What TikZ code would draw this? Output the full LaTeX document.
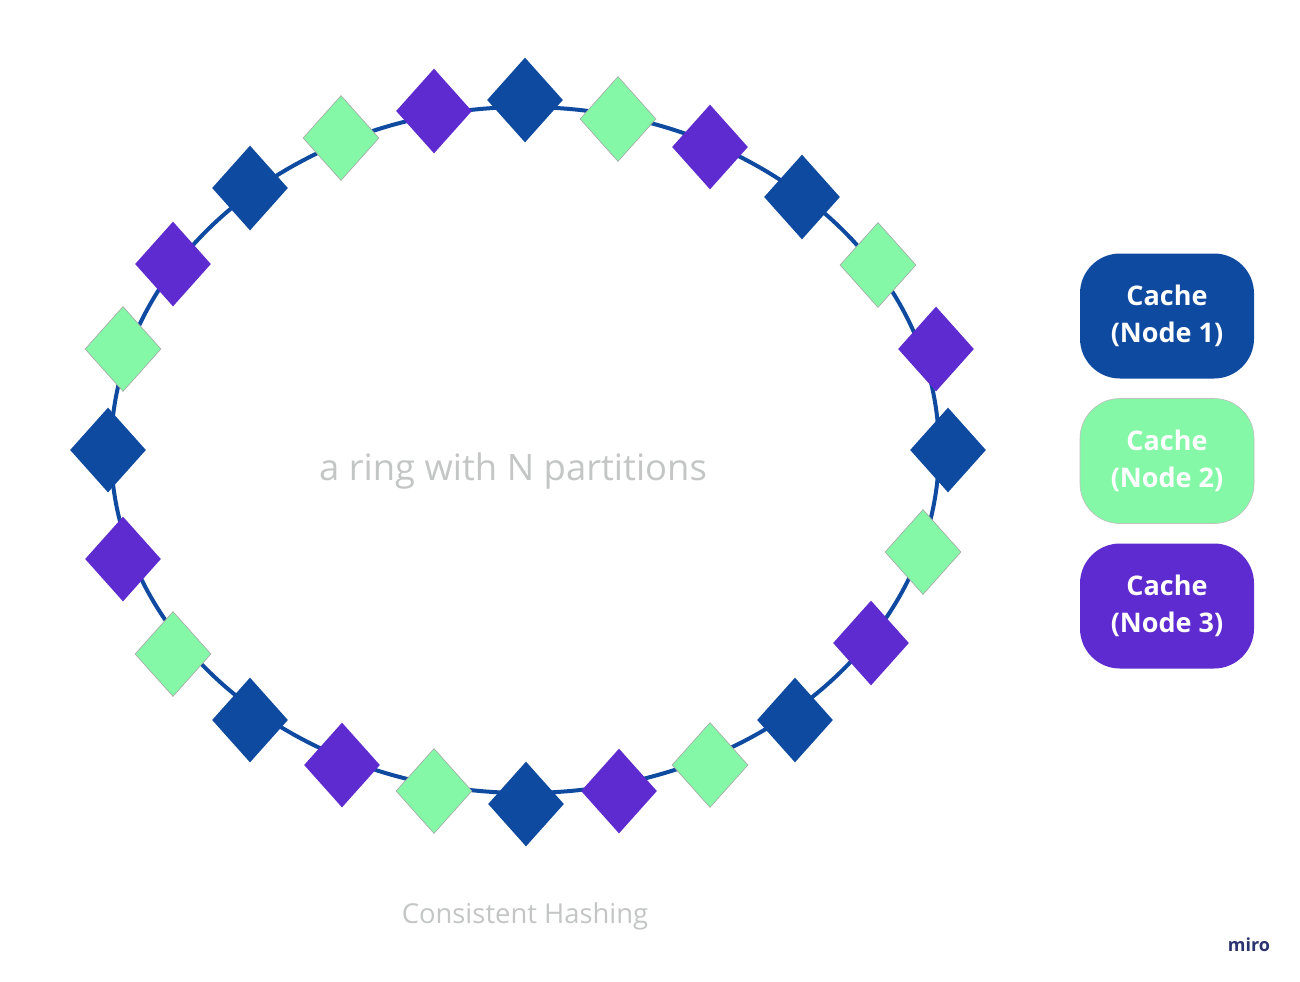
\documentclass[tikz,border=0pt]{standalone}
\usepackage{fontspec}
\setmainfont{Open Sans}
\usetikzlibrary{shapes.geometric}
\definecolor{ringblue}{HTML}{0F4AA1}
\definecolor{ringgreen}{HTML}{85F8A8}
\definecolor{ringpurple}{HTML}{5E2BD0}
\definecolor{labelgray}{HTML}{C4C6C6}
\definecolor{miroblue}{HTML}{2B3470}

\begin{document}
\begin{tikzpicture}[
    x=0.5pt, y=-0.5pt,
    slot/.style={diamond, inner sep=0pt, minimum width=38pt, minimum height=42.5pt},
    bslot/.style={slot, fill=ringblue},
    gslot/.style={slot, fill=ringgreen, draw=black!35, line width=0.3pt},
    pslot/.style={slot, fill=ringpurple},
    ring/.style={draw=ringblue, line width=2pt},
    cache/.style={rounded corners=20pt, minimum width=87pt, minimum height=62.5pt,
        align=center, text=white, font=\fontsize{13.5}{18.5}\selectfont\bfseries}
]
    \useasboundingbox[fill=white] (0,0) rectangle (1300,981);
    \draw[ring] (525,450) ellipse [x radius=414, y radius=343];
    \node[bslot] (s1) at (525,100) {};
    \node[gslot] (s2) at (618,119) {};
    \node[pslot] (s3) at (710,147) {};
    \node[bslot] (s4) at (802,197) {};
    \node[gslot] (s5) at (878,265) {};
    \node[pslot] (s6) at (936,349) {};
    \node[bslot] (s7) at (948,450) {};
    \node[gslot] (s8) at (923,552) {};
    \node[pslot] (s9) at (871,643) {};
    \node[bslot] (s10) at (795,720) {};
    \node[gslot] (s11) at (710,765) {};
    \node[pslot] (s12) at (619,791) {};
    \node[bslot] (s13) at (526,804) {};
    \node[gslot] (s14) at (434,791) {};
    \node[pslot] (s15) at (342,765) {};
    \node[bslot] (s16) at (250,720) {};
    \node[gslot] (s17) at (173,654) {};
    \node[pslot] (s18) at (123,559) {};
    \node[bslot] (s19) at (108,450) {};
    \node[gslot] (s20) at (123,349) {};
    \node[pslot] (s21) at (173,264) {};
    \node[bslot] (s22) at (250,188) {};
    \node[gslot] (s23) at (341,138) {};
    \node[pslot] (s24) at (434,111) {};
    \node[text=labelgray, font=\fontsize{18.2}{22}\selectfont] (ringlabel) at (513,471) {a ring with N partitions};
    \node[cache, fill=ringblue] (cache1) at (1167,316) {Cache\\(Node 1)};
    \node[cache, fill=ringgreen, draw=black!25, line width=0.3pt] (cache2) at (1167,461) {Cache\\(Node 2)};
    \node[cache, fill=ringpurple] (cache3) at (1167,606) {Cache\\(Node 3)};
    \node[text=labelgray, font=\fontsize{13.7}{16}\selectfont] (title) at (525,916) {Consistent Hashing};
    \node[text=miroblue, font=\fontsize{9}{11}\selectfont\bfseries] (logo) at (1249,945) {miro};
\end{tikzpicture}
\end{document}
